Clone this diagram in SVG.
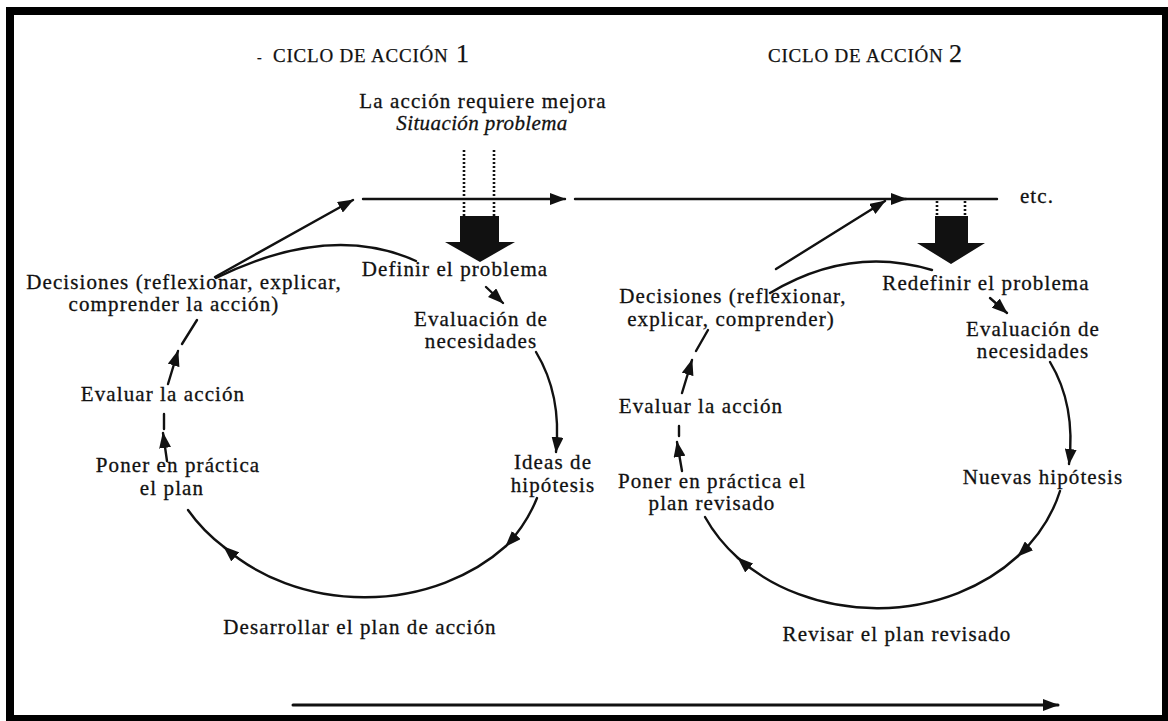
<svg xmlns="http://www.w3.org/2000/svg" width="1168" height="721" viewBox="0 0 1168 721">
<defs>
<style>
.t{font-family:'Liberation Serif','Times New Roman',serif;font-size:21px;letter-spacing:1.1px;fill:#111;stroke:#111;stroke-width:0.3;text-anchor:middle}
.ti{font-style:italic;letter-spacing:0.4px}
.h{font-family:'Liberation Serif','Times New Roman',serif;font-size:19px;letter-spacing:0.8px;fill:#111;stroke:#111;stroke-width:0.25}
.big{font-size:26px;letter-spacing:0}
.ln{fill:none;stroke:#111;stroke-width:2.4;stroke-linecap:round}
.dot{fill:none;stroke:#111;stroke-width:2.6;stroke-dasharray:2 2}
.blk{fill:#111}
</style>
<marker id="ah" viewBox="0 0 16 12" refX="15" refY="6" markerWidth="16" markerHeight="12" markerUnits="userSpaceOnUse" orient="auto"><path d="M0,0 L16,6 L0,12 z" fill="#111"/></marker>
</defs>
<rect x="0" y="0" width="1168" height="721" fill="#fff"/>
<rect x="6" y="7" width="1162" height="714" fill="#000"/>
<rect x="14" y="15" width="1148" height="700" fill="#fff"/>

<g id="connectors">
  <path class="ln" d="M363,199 H565" marker-end="url(#ah)"/>
  <path class="ln" d="M575,199 H906" marker-end="url(#ah)"/>
  <path class="ln" d="M900,199 H997"/>
  <path class="dot" d="M464,150 V216 M494,150 V216"/>
  <path class="dot" d="M937,201 V216 M965,201 V216"/>
  <polygon class="blk" points="460,216 499,216 499,242 515,242 480,262 445,242 460,242"/>
  <polygon class="blk" points="935,216 968,216 968,243 985,243 951,264 917,243 935,243"/>
  <!-- cycle 1 -->
  <path class="ln" d="M215,277 L353,200" marker-end="url(#ah)"/>
  <path class="ln" d="M216,278 Q330,222 416,261"/>
  <path class="ln" d="M486,287 L503,303" marker-end="url(#ah)"/>
  <path class="ln" d="M536,352 Q562,395 556,452" marker-end="url(#ah)"/>
  <path class="ln" d="M537,498 A192,158 0 0 1 506,546" marker-end="url(#ah)"/>
  <path class="ln" d="M506,546 A192,158 0 0 1 224,547" marker-end="url(#ah)"/>
  <path class="ln" d="M224,547 A192,158 0 0 1 188,510"/>
  <path class="ln" d="M167,461 L163,433" marker-end="url(#ah)"/>
  <path class="ln" d="M164,429 V414"/>
  <path class="ln" d="M168,384 L178,351" marker-end="url(#ah)"/>
  <path class="ln" d="M182,344 L197,320"/>
  <!-- cycle 2 -->
  <path class="ln" d="M776,269 L885,201" marker-end="url(#ah)"/>
  <path class="ln" d="M770,293 Q850,245 932,270"/>
  <path class="ln" d="M990,298 L1007,313" marker-end="url(#ah)"/>
  <path class="ln" d="M1050,362 Q1076,405 1069,464" marker-end="url(#ah)"/>
  <path class="ln" d="M1060,491 A190,158 0 0 1 1018,556" marker-end="url(#ah)"/>
  <path class="ln" d="M1018,556 A190,158 0 0 1 738,558" marker-end="url(#ah)"/>
  <path class="ln" d="M738,558 A190,158 0 0 1 705,517"/>
  <path class="ln" d="M682,471 L677,442" marker-end="url(#ah)"/>
  <path class="ln" d="M679,436 V426"/>
  <path class="ln" d="M682,393 L692,360" marker-end="url(#ah)"/>
  <path class="ln" d="M696,351 L708,330"/>
  <!-- bottom -->
  <path class="ln" style="stroke-width:3" d="M293,705 H1058" marker-end="url(#ah)"/>
</g>

<g id="title1"><text class="h" x="257" y="62"><tspan font-size="14">-</tspan><tspan x="273">CICLO DE ACCIÓN</tspan><tspan class="big" x="456">1</tspan></text></g>
<g id="title2"><text class="h" x="768" y="62">CICLO DE ACCIÓN<tspan class="big" x="949">2</tspan></text></g>
<g id="situacion"><text class="t" x="483" y="108">La acción requiere mejora</text><text class="t ti" x="482" y="130">Situación problema</text></g>
<g id="etc"><text class="t" x="1037" y="203">etc.</text></g>

<g id="decisiones1"><text class="t" x="184" y="289">Decisiones (reflexionar, explicar,</text><text class="t" x="174" y="311">comprender la acción)</text></g>
<g id="definir"><text class="t" x="455" y="276">Definir el problema</text></g>
<g id="evaluacion1"><text class="t" x="481" y="326">Evaluación de</text><text class="t" x="481" y="348">necesidades</text></g>
<g id="ideas"><text class="t" x="553" y="469">Ideas de</text><text class="t" x="553" y="492">hipótesis</text></g>
<g id="desarrollar"><text class="t" x="360" y="634">Desarrollar el plan de acción</text></g>
<g id="poner1"><text class="t" x="178" y="472">Poner en práctica</text><text class="t" x="172" y="495">el plan</text></g>
<g id="evaluar1"><text class="t" x="163" y="401">Evaluar la acción</text></g>

<g id="decisiones2"><text class="t" x="733" y="303">Decisiones (reflexionar,</text><text class="t" x="731" y="326">explicar, comprender)</text></g>
<g id="redefinir"><text class="t" x="986" y="290">Redefinir el problema</text></g>
<g id="evaluacion2"><text class="t" x="1033" y="336">Evaluación de</text><text class="t" x="1033" y="358">necesidades</text></g>
<g id="nuevas"><text class="t" x="1043" y="484">Nuevas hipótesis</text></g>
<g id="revisar"><text class="t" x="897" y="641">Revisar el plan revisado</text></g>
<g id="poner2"><text class="t" x="712" y="488">Poner en práctica el</text><text class="t" x="712" y="510">plan revisado</text></g>
<g id="evaluar2"><text class="t" x="701" y="413">Evaluar la acción</text></g>
</svg>
